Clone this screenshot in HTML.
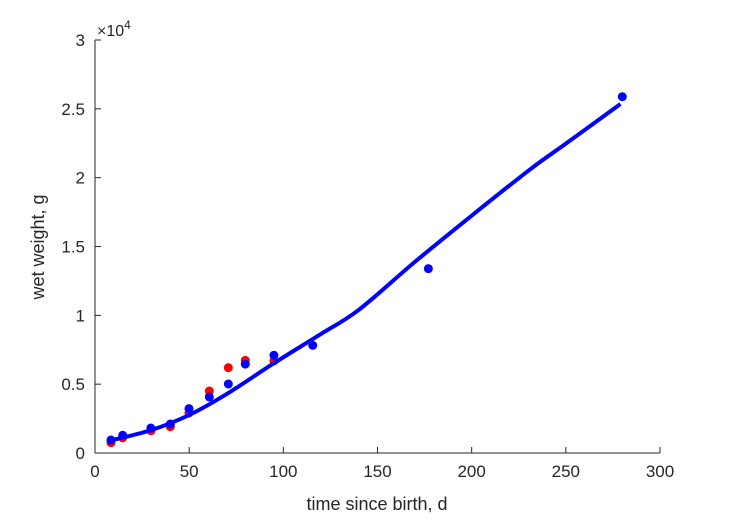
<!DOCTYPE html>
<html><head><meta charset="utf-8"><style>
body{margin:0;background:#fff;}
svg text{font-family:"Liberation Sans",sans-serif;fill:#262626;}
</style></head><body>
<svg id="chart" width="729" height="521" xmlns="http://www.w3.org/2000/svg">
<rect width="729" height="521" fill="#fff"/>
<g id="axes"></g>
<g id="marks"></g>
</svg>
<script>
const xTicks=[0,50,100,150,200,250,300];
const yTicks=[0,0.5,1,1.5,2,2.5,3];
const redT=[8.5,14.7,29.7,40,49.9,60.7,70.8,79.8,95];
const redW=[750,1100,1620,1910,2900,4500,6200,6730,6700];
const blueT=[8.5,14.7,29.7,40,49.9,60.7,70.8,79.8,95,115.6,177,280];
const blueW=[944,1285,1816,2106,3220,4070,5010,6460,7100,7820,13390,25880];
const curveT=[8,30,50,70,95,120,140,170,200,231,250,279];
const curveW=[900,1670,2760,4290,6520,8650,10390,13900,17240,20600,22470,25350];
const X0=95,X1=660,Y0=453,Y1=40;
const sx=t=>X0+(t/300)*(X1-X0);
const sy=w=>Y0-(w/30000)*(Y0-Y1);
const NS="http://www.w3.org/2000/svg";
const ax=document.getElementById('axes'),mk=document.getElementById('marks');
function el(tag,attrs,parent){const e=document.createElementNS(NS,tag);for(const k in attrs)e.setAttribute(k,attrs[k]);parent.appendChild(e);return e;}
let a=el('line',{x1:X0,y1:Y0,x2:X1,y2:Y0,stroke:'#262626','stroke-width':1},ax);


a=el('line',{x1:X0,y1:Y0,x2:X0,y2:Y1,stroke:'#262626','stroke-width':1},ax);


xTicks.forEach(v=>{
 const x=sx(v);
 const t=el('line',{x1:x,y1:Y0,x2:x,y2:Y0-6,stroke:'#262626'},ax);
 
 
 const l=el('text',{x:x,y:Y0+24,'text-anchor':'middle','font-size':17},ax);
 l.textContent=v;
 
 
});
yTicks.forEach(v=>{
 const y=sy(v*10000);
 const t=el('line',{x1:X0,y1:y,x2:X0+6,y2:y,stroke:'#262626'},ax);
 
 
 const l=el('text',{x:X0-10,y:y+6,'text-anchor':'end','font-size':17},ax);
 l.textContent=v;
 
 
});
let e=el('text',{x:97,y:36,'font-size':16},ax);
e.innerHTML='×10<tspan dy="-7" font-size="12">4</tspan>';


e=el('text',{x:377,y:510,'text-anchor':'middle','font-size':18},ax);
e.textContent='time since birth, d';


e=el('text',{x:44,y:247,'text-anchor':'middle','font-size':18,transform:'rotate(-90 44 247)'},ax);
e.textContent='wet weight, g';


redT.forEach((t,i)=>{
 const c=el('circle',{cx:sx(t),cy:sy(redW[i]),r:4.5,fill:'#ff0000'},mk);
 
 
});
blueT.forEach((t,i)=>{
 const c=el('circle',{cx:sx(t),cy:sy(blueW[i]),r:4.5,fill:'#0000ff'},mk);
 
 
});
const pts=curveT.map((t,i)=>[sx(t),sy(curveW[i])]);
let d='M'+pts[0][0]+','+pts[0][1];
for(let i=0;i<pts.length-1;i++){
 const p0=pts[Math.max(0,i-1)],p1=pts[i],p2=pts[i+1],p3=pts[Math.min(pts.length-1,i+2)];
 d+=' C'+(p1[0]+(p2[0]-p0[0])/6)+','+(p1[1]+(p2[1]-p0[1])/6)+' '+(p2[0]-(p3[0]-p1[0])/6)+','+(p2[1]-(p3[1]-p1[1])/6)+' '+p2[0]+','+p2[1];
}
const path=el('path',{d:d,fill:'none',stroke:'#0000ff','stroke-width':4},mk);


</script>
</body></html>
